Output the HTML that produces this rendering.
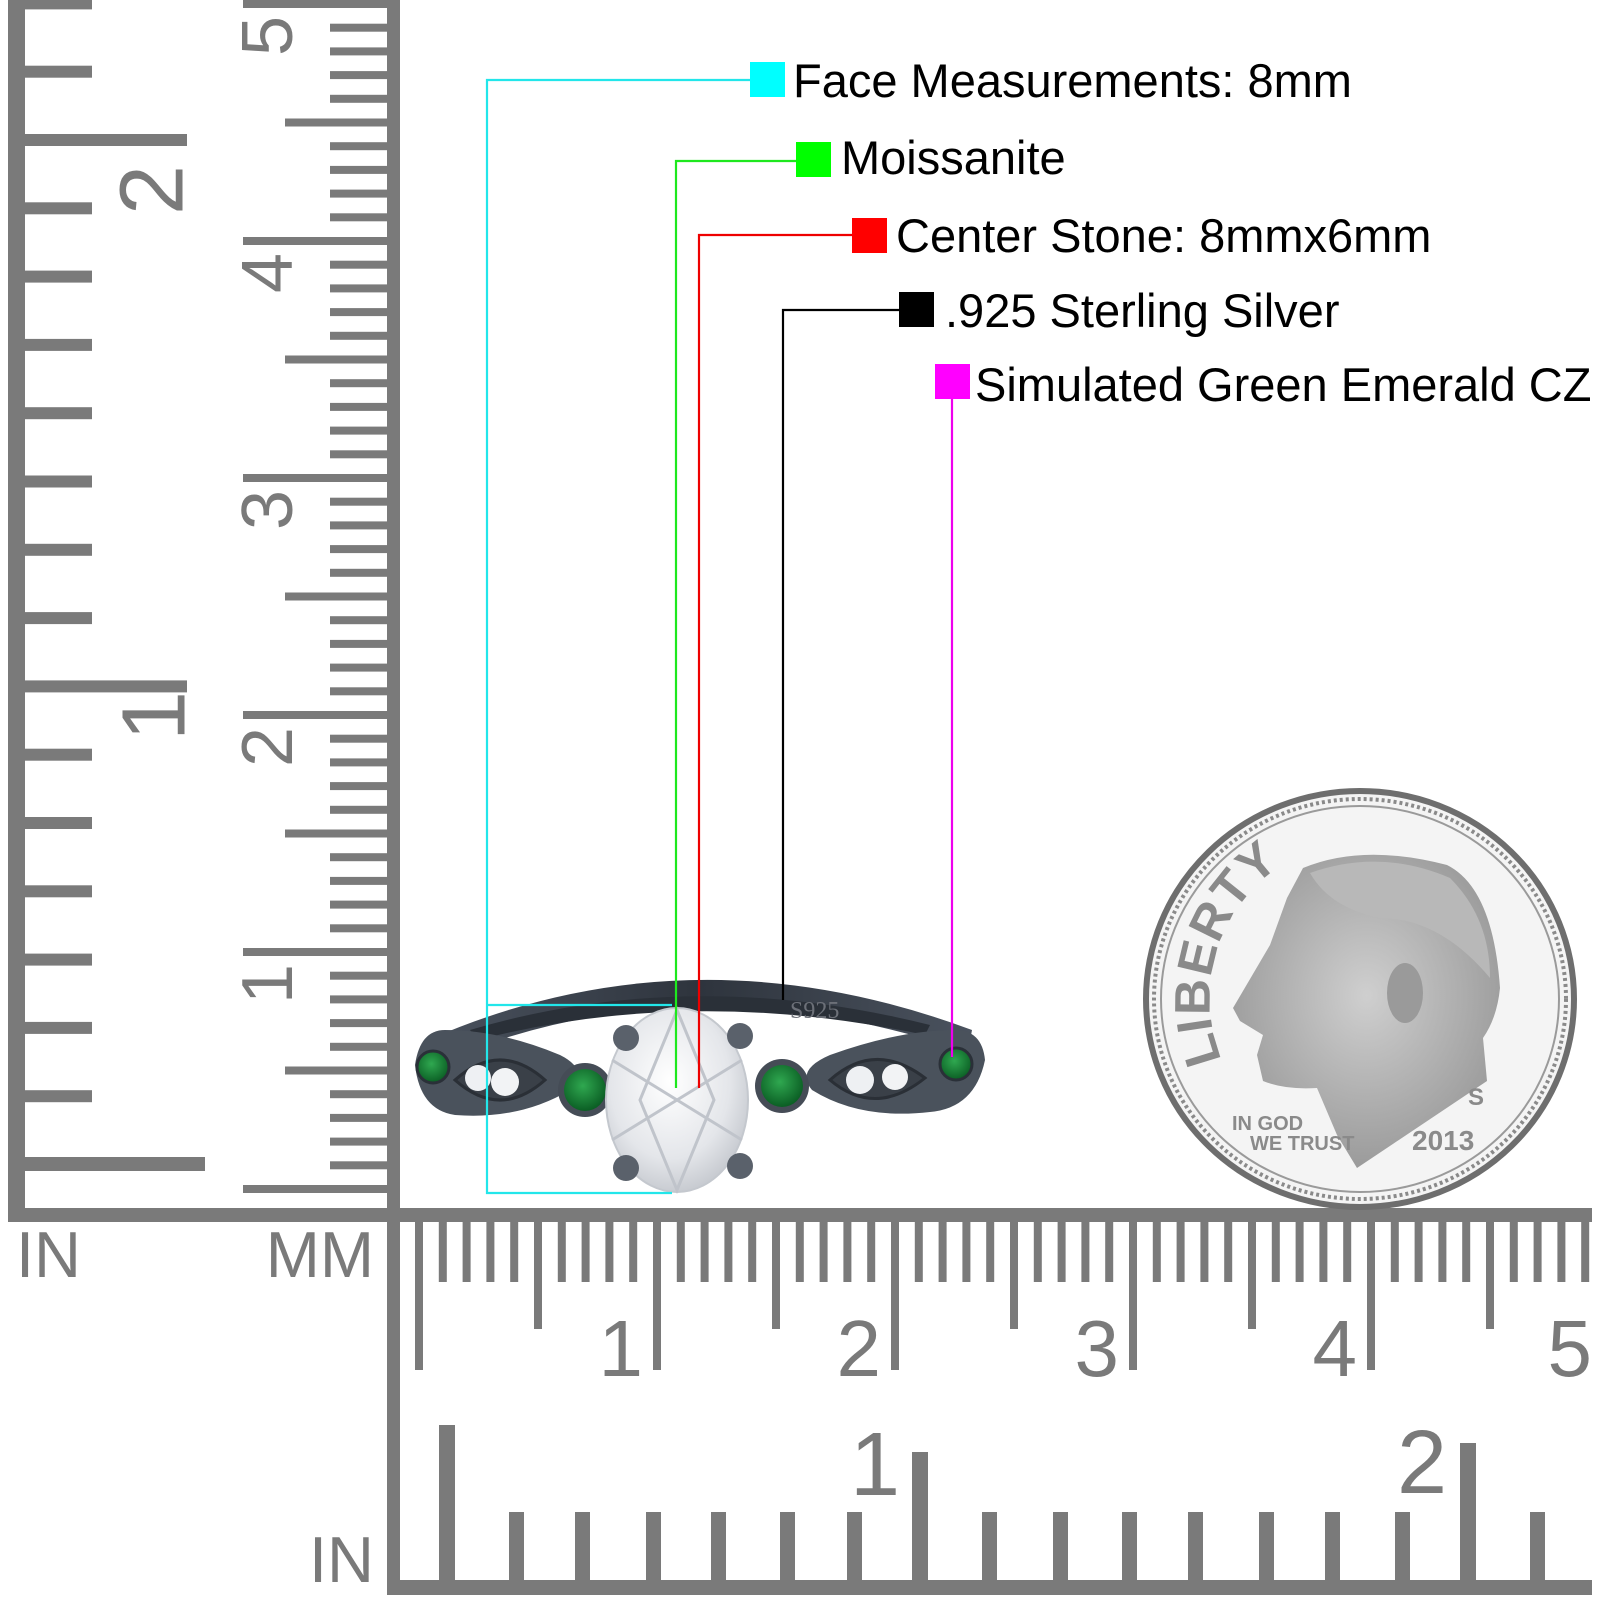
<!DOCTYPE html>
<html><head><meta charset="utf-8"><style>
html,body{margin:0;padding:0;background:#fff;}
svg{display:block;}
</style></head><body>
<svg width="1600" height="1600" viewBox="0 0 1600 1600" xmlns="http://www.w3.org/2000/svg" font-family="Liberation Sans, Arial, sans-serif">
<defs>
<radialGradient id="stone" cx="0.45" cy="0.4" r="0.7">
<stop offset="0" stop-color="#ffffff"/><stop offset="0.6" stop-color="#e4e6ea"/><stop offset="1" stop-color="#b9bdc4"/>
</radialGradient>
<radialGradient id="em" cx="0.45" cy="0.4" r="0.6">
<stop offset="0" stop-color="#2fa850"/><stop offset="1" stop-color="#0b5e24"/>
</radialGradient>
<linearGradient id="band" x1="0" x2="1">
<stop offset="0" stop-color="#4a525e"/><stop offset="0.5" stop-color="#2e343d"/><stop offset="1" stop-color="#4a525e"/>
</linearGradient>
<radialGradient id="face" cx="0.5" cy="0.45" r="0.6">
<stop offset="0" stop-color="#cfcfcf"/><stop offset="1" stop-color="#969696"/>
</radialGradient>
<path id="libarc" d="M1222 1060 A160 160 0 0 1 1310 850"/>
</defs>
<rect width="1600" height="1600" fill="#fff"/>

<g fill="#7a7a7a">
<rect x="8" y="0" width="17" height="1222"/>
<rect x="387" y="0" width="13" height="1222"/>
</g>

<g id="all" fill="#7a7a7a"></g>

<g fill="#7a7a7a" font-size="65">
<text x="16" y="1277">IN</text>
<text x="374" y="1277" text-anchor="end">MM</text>
<text x="374" y="1582" text-anchor="end">IN</text>
</g>

<!-- ring -->
<g>
<path d="M428 1040 Q690 925 972 1030 L968 1052 Q690 958 445 1060 Z" fill="url(#band)"/>
<path d="M470 1030 Q690 965 930 1025 L925 1035 Q690 985 478 1040 Z" fill="#2a3038"/>
<text x="790" y="1018" font-family="Liberation Serif, serif" font-size="24" fill="#6c7078">S925</text>
<path d="M415 1065 Q420 1030 445 1030 Q500 1030 560 1055 Q590 1070 570 1090 Q520 1120 455 1115 Q420 1110 415 1065 Z" fill="#4a525c"/>
<path d="M455 1080 Q500 1040 545 1080 Q500 1120 455 1080 Z" fill="#3a4048" stroke="#2a2f36" stroke-width="3"/>
<circle cx="433" cy="1067" r="16" fill="url(#em)" stroke="#2a3038" stroke-width="3"/>
<circle cx="478" cy="1078" r="13" fill="#eef0f3"/>
<circle cx="505" cy="1082" r="14" fill="#f2f3f5"/>
<circle cx="585" cy="1090" r="27" fill="#454c56"/>
<circle cx="585" cy="1090" r="21" fill="url(#em)"/>
<path d="M985 1060 Q982 1030 955 1030 Q900 1030 830 1055 Q795 1070 812 1090 Q860 1120 930 1112 Q975 1108 985 1060 Z" fill="#4a525c"/>
<path d="M830 1080 Q875 1040 925 1078 Q875 1118 830 1080 Z" fill="#3a4048" stroke="#2a2f36" stroke-width="3"/>
<circle cx="956" cy="1064" r="16" fill="url(#em)" stroke="#2a3038" stroke-width="3"/>
<circle cx="860" cy="1080" r="14" fill="#eef0f3"/>
<circle cx="895" cy="1077" r="13" fill="#f2f3f5"/>
<circle cx="782" cy="1086" r="27" fill="#454c56"/>
<circle cx="782" cy="1086" r="21" fill="url(#em)"/>
<ellipse cx="677" cy="1100" rx="71" ry="92" fill="url(#stone)" stroke="#c4c8ce" stroke-width="2"/>
<path d="M677 1010 L640 1100 L677 1190 L714 1100 Z M612 1060 L742 1140 M742 1060 L612 1140" fill="none" stroke="#c0c4cb" stroke-width="3"/>
<circle cx="626" cy="1038" r="13" fill="#5a616b"/>
<circle cx="740" cy="1036" r="13" fill="#5a616b"/>
<circle cx="626" cy="1168" r="13" fill="#5a616b"/>
<circle cx="740" cy="1166" r="13" fill="#5a616b"/>
</g>

<!-- connectors -->
<g fill="none" stroke-width="2.2">
<path d="M750 80 H487 V1193 H672 M487 1005 H672" stroke="#22e6ea"/>
<path d="M796 161 H676 V1088" stroke="#1ee81e"/>
<path d="M852 235 H699 V1088" stroke="#ee0000"/>
<path d="M899 310 H783 V1000" stroke="#000"/>
<path d="M952 399 V1057" stroke="#ee00ee"/>
</g>
<rect x="750" y="62" width="35" height="35" fill="#00ffff"/>
<rect x="796" y="142" width="35" height="35" fill="#00ff00"/>
<rect x="852" y="218" width="35" height="35" fill="#ff0000"/>
<rect x="899" y="292" width="35" height="35" fill="#000"/>
<rect x="935" y="364" width="35" height="35" fill="#ff00ff"/>
<g font-size="47" fill="#000">
<text x="793" y="97">Face Measurements: 8mm</text>
<text x="841" y="174">Moissanite</text>
<text x="896" y="252">Center Stone: 8mmx6mm</text>
<text x="945" y="327">.925 Sterling Silver</text>
<text x="975" y="401">Simulated Green Emerald CZ</text>
</g>

<!-- coin -->
<g>
<ellipse cx="1360" cy="999" rx="214" ry="208" fill="#f4f4f4" stroke="#6e6e6e" stroke-width="6"/>
<ellipse cx="1360" cy="999" rx="206" ry="200" fill="none" stroke="#8a8a8a" stroke-width="4" stroke-dasharray="3 3"/>
<ellipse cx="1360" cy="999" rx="199" ry="193" fill="none" stroke="#9a9a9a" stroke-width="2"/>
<g transform="translate(0,18)">
<path d="M1303 850 Q1363 825 1447 847 Q1493 870 1500 970 Q1497 1000 1483 1020 L1487 1063 L1357 1150 L1337 1117 L1317 1070 Q1285 1072 1263 1063 L1257 1037 L1263 1017 L1240 1003 L1233 990 L1270 927 L1287 880 Z" fill="url(#face)"/>
<path d="M1310 855 Q1380 830 1450 860 Q1490 900 1490 960 Q1440 900 1380 900 Q1330 890 1310 855 Z" fill="#b8b8b8"/>
<ellipse cx="1405" cy="975" rx="18" ry="30" fill="#9a9a9a"/>
</g>
<g fill="#8a8a8a" font-weight="bold">
<text font-size="50" letter-spacing="1"><textPath href="#libarc">LIBERTY</textPath></text>
<text x="1232" y="1130" font-size="20">IN GOD</text>
<text x="1250" y="1150" font-size="20">WE TRUST</text>
<text x="1412" y="1150" font-size="28">2013</text>
<text x="1468" y="1105" font-size="24">S</text>
</g>
</g>

<script>
(function(){
var ns="http://www.w3.org/2000/svg";
var g=document.getElementById("all");
function r(x,y,w,h){var e=document.createElementNS(ns,"rect");e.setAttribute("x",x);e.setAttribute("y",y);e.setAttribute("width",w);e.setAttribute("height",h);g.appendChild(e);}
function t(x,y,s,fs,anchor,rot){var e=document.createElementNS(ns,"text");e.textContent=s;e.setAttribute("font-size",fs);if(anchor)e.setAttribute("text-anchor",anchor);
 if(rot){e.setAttribute("transform","translate("+x+" "+y+") rotate(-90)");e.setAttribute("x",0);e.setAttribute("y",fs*0.36);}else{e.setAttribute("x",x);e.setAttribute("y",y);}
 g.appendChild(e);}
for(var k=-2;k<=15;k++){var y=140+68.3*k;
 if(k==0||k==8){r(25,y-6,162,12);}else if(k==15){r(25,1157,180,14);}else{r(25,y-6,67,12);} }
t(150,190,"2",90,"middle",1);
t(152,716,"1",90,"middle",1);
for(var n=0;n<=51;n++){var y=1189-23.7*n;if(y<-5)break;var x0=(n%10==0)?243:(n%5==0?285:330);r(x0,y-4,387-x0,8);}
for(var c=1;c<=5;c++){t(266,1189-237*c+32,""+c,72,"middle",1);}
r(8,1208,1584,14);
r(387,1208,13,387);
r(387,1580,1205,15);
for(var n=0;n<=50;n++){var x=419+23.8*n;if(x>1595)break;var y1=(n%10==0)?1370:(n%5==0?1329:1282);r(x-4,1222,8,y1-1222);}
for(var c=1;c<=5;c++){var tx=419+238*c-14;if(c==5)tx=1592;t(tx,1376,""+c,80,"end");}
var longs=[[447,1425],[920,1452],[1468,1443]];
longs.forEach(function(a){r(a[0]-8,a[1],16,1582-a[1]);});
[516,582,653,718,787,854,989,1060,1129,1195,1266,1332,1402,1537].forEach(function(x){r(x-7,1512,15,70);});
t(900,1495,"1",90,"end");
t(1447,1493,"2",90,"end");
})();
</script>
</svg>
</body></html>
